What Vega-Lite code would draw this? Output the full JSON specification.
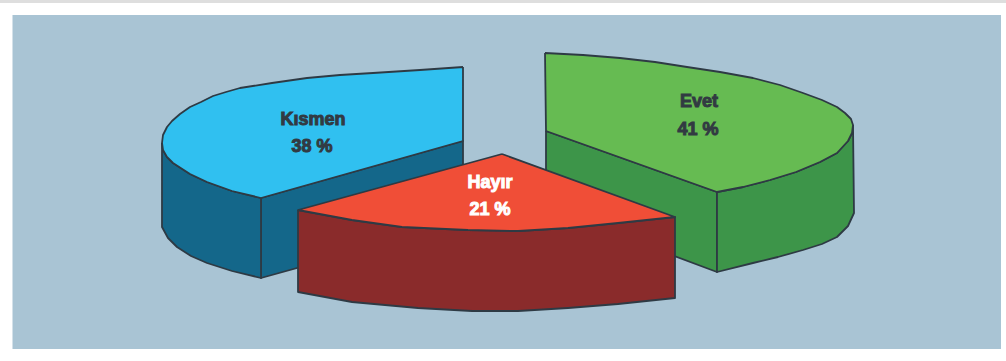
{
"$schema":"https://vega.github.io/schema/vega-lite/v6.json",
"width":1006,"height":361,"padding":0,
"autosize":{"type":"fit","contains":"padding"},
"background":"#ffffff",
"view":{"stroke":null},
"config":{"style":{"cell":{"stroke":null}}},
"resolve":{"scale":{"fill":"independent","color":"independent","stroke":"independent"}},
"datasets":{
"frame":[
{"name":"band","x":0,"x2":1006,"y":0,"y2":3},
{"name":"panel","x":12.5,"x2":1001,"y":15,"y2":349}
],
"labels":[
{"text":"Kısmen","tone":"dark","x":313,"y":120},
{"text":"38 %","tone":"dark","x":312,"y":147},
{"text":"Evet","tone":"dark","x":699,"y":102},
{"text":"41 %","tone":"dark","x":698,"y":130},
{"text":"Hayır","tone":"light","x":490,"y":183},
{"text":"21 %","tone":"light","x":490,"y":210}
],
"outlines":[
{"part":"Kısmen kesit","o":1,"x":261,"y":198},{"part":"Kısmen kesit","o":2,"x":463,"y":141},{"part":"Kısmen kesit","o":3,"x":463,"y":222},{"part":"Kısmen kesit","o":4,"x":261,"y":278},{"part":"Kısmen kesit","o":5,"x":261,"y":198},
{"part":"Kısmen kenar","o":1,"x":162,"y":143},{"part":"Kısmen kenar","o":2,"x":162,"y":227},{"part":"Kısmen kenar","o":3,"x":168,"y":238},{"part":"Kısmen kenar","o":4,"x":177,"y":247},{"part":"Kısmen kenar","o":5,"x":191,"y":256},{"part":"Kısmen kenar","o":6,"x":207,"y":263},{"part":"Kısmen kenar","o":7,"x":232,"y":271},{"part":"Kısmen kenar","o":8,"x":261,"y":278},{"part":"Kısmen kenar","o":9,"x":261,"y":198},{"part":"Kısmen kenar","o":10,"x":232,"y":191},{"part":"Kısmen kenar","o":11,"x":207,"y":182},{"part":"Kısmen kenar","o":12,"x":190,"y":174},{"part":"Kısmen kenar","o":13,"x":173,"y":163},{"part":"Kısmen kenar","o":14,"x":167,"y":157},{"part":"Kısmen kenar","o":15,"x":163,"y":150},{"part":"Kısmen kenar","o":16,"x":162,"y":143},
{"part":"Kısmen üst","o":1,"x":463,"y":67},{"part":"Kısmen üst","o":2,"x":463,"y":141},{"part":"Kısmen üst","o":3,"x":261,"y":198},{"part":"Kısmen üst","o":4,"x":232,"y":191},{"part":"Kısmen üst","o":5,"x":207,"y":182},{"part":"Kısmen üst","o":6,"x":190,"y":174},{"part":"Kısmen üst","o":7,"x":173,"y":163},{"part":"Kısmen üst","o":8,"x":167,"y":157},{"part":"Kısmen üst","o":9,"x":163,"y":150},{"part":"Kısmen üst","o":10,"x":162,"y":143},{"part":"Kısmen üst","o":11,"x":163,"y":135},{"part":"Kısmen üst","o":12,"x":167,"y":127},{"part":"Kısmen üst","o":13,"x":172,"y":121},{"part":"Kısmen üst","o":14,"x":180,"y":114},{"part":"Kısmen üst","o":15,"x":190,"y":107},{"part":"Kısmen üst","o":16,"x":201,"y":102},{"part":"Kısmen üst","o":17,"x":213,"y":96},{"part":"Kısmen üst","o":18,"x":226,"y":92},{"part":"Kısmen üst","o":19,"x":240,"y":88},{"part":"Kısmen üst","o":20,"x":272,"y":83},{"part":"Kısmen üst","o":21,"x":307,"y":78},{"part":"Kısmen üst","o":22,"x":340,"y":75},{"part":"Kısmen üst","o":23,"x":373,"y":73},{"part":"Kısmen üst","o":24,"x":420,"y":70},{"part":"Kısmen üst","o":25,"x":463,"y":67},
{"part":"Evet kesit","o":1,"x":546,"y":131},{"part":"Evet kesit","o":2,"x":717,"y":192},{"part":"Evet kesit","o":3,"x":717,"y":272},{"part":"Evet kesit","o":4,"x":546,"y":208},{"part":"Evet kesit","o":5,"x":546,"y":131},
{"part":"Evet kenar","o":1,"x":853,"y":125},{"part":"Evet kenar","o":2,"x":854,"y":213},{"part":"Evet kenar","o":3,"x":848,"y":226},{"part":"Evet kenar","o":4,"x":837,"y":237},{"part":"Evet kenar","o":5,"x":822,"y":244},{"part":"Evet kenar","o":6,"x":803,"y":250},{"part":"Evet kenar","o":7,"x":778,"y":257},{"part":"Evet kenar","o":8,"x":753,"y":263},{"part":"Evet kenar","o":9,"x":717,"y":272},{"part":"Evet kenar","o":10,"x":717,"y":192},{"part":"Evet kenar","o":11,"x":743,"y":187},{"part":"Evet kenar","o":12,"x":770,"y":180},{"part":"Evet kenar","o":13,"x":796,"y":172},{"part":"Evet kenar","o":14,"x":820,"y":162},{"part":"Evet kenar","o":15,"x":837,"y":153},{"part":"Evet kenar","o":16,"x":848,"y":141},{"part":"Evet kenar","o":17,"x":852,"y":133},{"part":"Evet kenar","o":18,"x":853,"y":125},
{"part":"Evet üst","o":1,"x":545,"y":53},{"part":"Evet üst","o":2,"x":546,"y":131},{"part":"Evet üst","o":3,"x":717,"y":192},{"part":"Evet üst","o":4,"x":743,"y":187},{"part":"Evet üst","o":5,"x":770,"y":180},{"part":"Evet üst","o":6,"x":796,"y":172},{"part":"Evet üst","o":7,"x":820,"y":162},{"part":"Evet üst","o":8,"x":837,"y":153},{"part":"Evet üst","o":9,"x":848,"y":141},{"part":"Evet üst","o":10,"x":852,"y":133},{"part":"Evet üst","o":11,"x":853,"y":125},{"part":"Evet üst","o":12,"x":851,"y":119},{"part":"Evet üst","o":13,"x":845,"y":113},{"part":"Evet üst","o":14,"x":837,"y":107},{"part":"Evet üst","o":15,"x":822,"y":100},{"part":"Evet üst","o":16,"x":803,"y":93},{"part":"Evet üst","o":17,"x":780,"y":85},{"part":"Evet üst","o":18,"x":753,"y":78},{"part":"Evet üst","o":19,"x":720,"y":72},{"part":"Evet üst","o":20,"x":687,"y":67},{"part":"Evet üst","o":21,"x":655,"y":62},{"part":"Evet üst","o":22,"x":620,"y":58},{"part":"Evet üst","o":23,"x":583,"y":55},{"part":"Evet üst","o":24,"x":545,"y":53},
{"part":"Hayır kenar","o":1,"x":298,"y":210},{"part":"Hayır kenar","o":2,"x":298,"y":292},{"part":"Hayır kenar","o":3,"x":352,"y":302},{"part":"Hayır kenar","o":4,"x":418,"y":308},{"part":"Hayır kenar","o":5,"x":472,"y":311},{"part":"Hayır kenar","o":6,"x":518,"y":311},{"part":"Hayır kenar","o":7,"x":568,"y":308},{"part":"Hayır kenar","o":8,"x":618,"y":304},{"part":"Hayır kenar","o":9,"x":675,"y":298},{"part":"Hayır kenar","o":10,"x":675,"y":217},{"part":"Hayır kenar","o":11,"x":618,"y":223},{"part":"Hayır kenar","o":12,"x":568,"y":228},{"part":"Hayır kenar","o":13,"x":518,"y":231},{"part":"Hayır kenar","o":14,"x":468,"y":230},{"part":"Hayır kenar","o":15,"x":402,"y":227},{"part":"Hayır kenar","o":16,"x":352,"y":220},{"part":"Hayır kenar","o":17,"x":298,"y":210},
{"part":"Hayır üst","o":1,"x":502,"y":154},{"part":"Hayır üst","o":2,"x":675,"y":217},{"part":"Hayır üst","o":3,"x":618,"y":223},{"part":"Hayır üst","o":4,"x":568,"y":228},{"part":"Hayır üst","o":5,"x":518,"y":231},{"part":"Hayır üst","o":6,"x":468,"y":230},{"part":"Hayır üst","o":7,"x":402,"y":227},{"part":"Hayır üst","o":8,"x":352,"y":220},{"part":"Hayır üst","o":9,"x":298,"y":210},{"part":"Hayır üst","o":10,"x":502,"y":154}
]
},
"layer":[
{"data":{"name":"frame"},
 "mark":{"type":"rect"},
 "encoding":{
  "x":{"field":"x","type":"quantitative","scale":{"domain":[0,1006],"nice":false,"zero":false},"axis":null},
  "x2":{"field":"x2"},
  "y":{"field":"y","type":"quantitative","scale":{"domain":[361,0],"nice":false,"zero":false},"axis":null},
  "y2":{"field":"y2"},
  "fill":{"field":"name","type":"nominal","legend":null,"scale":{"domain":["band","panel"],"range":["#dedede","#a9c4d4"]}}
 }},
{"data":{"name":"outlines"},
 "mark":{"type":"line","stroke":"#2e3a44","strokeWidth":1.8,"strokeJoin":"round"},
 "encoding":{
  "x":{"field":"x","type":"quantitative","scale":{"domain":[0,1006],"nice":false,"zero":false},"axis":null},
  "y":{"field":"y","type":"quantitative","scale":{"domain":[361,0],"nice":false,"zero":false},"axis":null},
  "order":{"field":"o","type":"quantitative"},
  "detail":{"field":"part"},
  "fill":{"field":"part","type":"nominal","legend":null,"sort":null,"scale":{
    "domain":["Kısmen kesit","Kısmen kenar","Kısmen üst","Evet kesit","Evet kenar","Evet üst","Hayır kenar","Hayır üst"],
    "range":["#14678a","#14678a","#30c0f0","#3d9549","#3d9549","#66bb52","#8a2b2b","#f04e37"]}}
 }},
{"data":{"name":"labels"},
 "mark":{"type":"text","font":"Liberation Sans","fontWeight":"bold","fontSize":18,"align":"center","baseline":"middle","strokeWidth":1},
 "encoding":{
  "x":{"field":"x","type":"quantitative","scale":{"domain":[0,1006],"nice":false,"zero":false},"axis":null},
  "y":{"field":"y","type":"quantitative","scale":{"domain":[361,0],"nice":false,"zero":false},"axis":null},
  "text":{"field":"text"},
  "color":{"field":"tone","type":"nominal","legend":null,"scale":{"domain":["dark","light"],"range":["#323a42","#ffffff"]}},
  "stroke":{"field":"tone","type":"nominal","legend":null,"scale":{"domain":["dark","light"],"range":["#323a42","#ffffff"]}}
 }}
]
}
